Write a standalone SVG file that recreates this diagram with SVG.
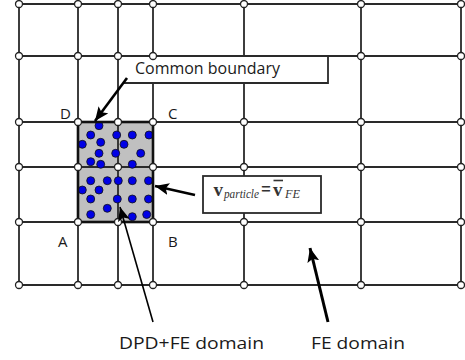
<svg xmlns="http://www.w3.org/2000/svg" width="465" height="360" viewBox="0 0 465 360">
<style>
.g{stroke:#2a2a2a;stroke-width:1.8;fill:none}
.n{fill:#fff;stroke:#222;stroke-width:1.3}
.p{fill:#0000e6;stroke:#111;stroke-width:0.8}
.lbl{font-family:"Open Sans","Liberation Sans",Arial,sans-serif;fill:#1a1a1a}
.tm{font-family:"Liberation Serif","Times New Roman",serif;fill:#333}
.box{fill:#fff;stroke:#2a2a2a;stroke-width:1.8}
.ar{stroke:#000;fill:none}
</style>
<defs>
<marker id="ah" markerUnits="userSpaceOnUse" markerWidth="16" markerHeight="14" refX="14" refY="6" orient="auto">
<path d="M0,0 L14,6 L0,12 L3,6 Z" fill="#000"/>
</marker>
</defs>
<g id="grid">
<path class="g" d="M19,4H461M19,56H461M19,122H461M19,167H461M19,222H461M19,285H461M19,4V285M78,4V285M118,4V285M153,4V285M244,4V285M361,4V285M461,4V285"/>
</g>
<g id="dpd-region">
<rect x="78" y="122" width="75" height="100" fill="#c0c0c0" stroke="none"/>
<path class="g" d="M118,122V222M78,167H153" stroke-width="1.2"/>
<g>
<circle class="p" cx="99" cy="125.7" r="4"/>
<circle class="p" cx="90.7" cy="135" r="4"/>
<circle class="p" cx="116.7" cy="135" r="4"/>
<circle class="p" cx="132.3" cy="135" r="4"/>
<circle class="p" cx="149" cy="135" r="4"/>
<circle class="p" cx="82.3" cy="144.3" r="4"/>
<circle class="p" cx="100.7" cy="142.3" r="4"/>
<circle class="p" cx="124" cy="144.3" r="4"/>
<circle class="p" cx="99" cy="153.3" r="4"/>
<circle class="p" cx="115.7" cy="153.3" r="4"/>
<circle class="p" cx="140.7" cy="153.3" r="4"/>
<circle class="p" cx="90.7" cy="161.7" r="4"/>
<circle class="p" cx="100.7" cy="164.3" r="4"/>
<circle class="p" cx="132.3" cy="164.3" r="4"/>
<circle class="p" cx="90.7" cy="180.7" r="4"/>
<circle class="p" cx="107.3" cy="180.7" r="4"/>
<circle class="p" cx="118.3" cy="180.7" r="4"/>
<circle class="p" cx="132.3" cy="180.7" r="4"/>
<circle class="p" cx="148.5" cy="180.7" r="4"/>
<circle class="p" cx="82.3" cy="190" r="4"/>
<circle class="p" cx="99" cy="190" r="4"/>
<circle class="p" cx="90.7" cy="199" r="4"/>
<circle class="p" cx="117.3" cy="199" r="4"/>
<circle class="p" cx="132.3" cy="199" r="4"/>
<circle class="p" cx="148.5" cy="199" r="4"/>
<circle class="p" cx="107.3" cy="208.3" r="4"/>
<circle class="p" cx="90.7" cy="214.5" r="4"/>
<circle class="p" cx="132.3" cy="216.7" r="4"/>
<circle class="p" cx="146.7" cy="214.5" r="4"/>
</g>
<rect x="78" y="122" width="75" height="100" fill="none" stroke="#111" stroke-width="2.6"/>
</g>
<g id="common-boundary-box">
<rect x="124" y="56" width="204" height="27" fill="#fff" stroke="none"/>
<path class="g" d="M124,56H328V83H124"/>
<text class="lbl" x="135" y="74" font-size="15.5" textLength="145" lengthAdjust="spacingAndGlyphs">Common boundary</text>
</g>
<g id="velocity-box">
<rect class="box" x="203" y="176" width="118" height="37"/>
<text class="tm" x="213.5" y="196" font-size="19" font-weight="bold">v</text>
<text class="tm" x="224" y="198" font-size="11.5" font-style="italic" textLength="35" lengthAdjust="spacingAndGlyphs">particle</text>
<text class="tm" x="261" y="196" font-size="20" font-weight="bold" textLength="10" lengthAdjust="spacingAndGlyphs">=</text>
<text class="tm" x="273" y="196" font-size="19" font-weight="bold">v</text>
<line x1="273.5" y1="180.5" x2="283" y2="180.5" stroke="#333" stroke-width="1.6"/>
<text class="tm" x="285" y="198" font-size="12" font-style="italic" textLength="15" lengthAdjust="spacingAndGlyphs">FE</text>
</g>
<g id="nodes">
<circle class="n" cx="19" cy="4" r="3.5"/><circle class="n" cx="78" cy="4" r="3.5"/><circle class="n" cx="118" cy="4" r="3.5"/><circle class="n" cx="153" cy="4" r="3.5"/><circle class="n" cx="244" cy="4" r="3.5"/><circle class="n" cx="361" cy="4" r="3.5"/><circle class="n" cx="461" cy="4" r="3.5"/>
<circle class="n" cx="19" cy="56" r="3.5"/><circle class="n" cx="78" cy="56" r="3.5"/><circle class="n" cx="118" cy="56" r="3.5"/><circle class="n" cx="153" cy="56" r="3.5"/><circle class="n" cx="361" cy="56" r="3.5"/><circle class="n" cx="461" cy="56" r="3.5"/>
<circle class="n" cx="19" cy="122" r="3.5"/><circle class="n" cx="78" cy="122" r="3.5"/><circle class="n" cx="118" cy="122" r="3.5"/><circle class="n" cx="153" cy="122" r="3.5"/><circle class="n" cx="244" cy="122" r="3.5"/><circle class="n" cx="361" cy="122" r="3.5"/><circle class="n" cx="461" cy="122" r="3.5"/>
<circle class="n" cx="19" cy="167" r="3.5"/><circle class="n" cx="78" cy="167" r="3.5"/><circle class="n" cx="118" cy="167" r="3.5"/><circle class="n" cx="153" cy="167" r="3.5"/><circle class="n" cx="244" cy="167" r="3.5"/><circle class="n" cx="361" cy="167" r="3.5"/><circle class="n" cx="461" cy="167" r="3.5"/>
<circle class="n" cx="19" cy="222" r="3.5"/><circle class="n" cx="78" cy="222" r="3.5"/><circle class="n" cx="118" cy="222" r="3.5"/><circle class="n" cx="153" cy="222" r="3.5"/><circle class="n" cx="244" cy="222" r="3.5"/><circle class="n" cx="361" cy="222" r="3.5"/><circle class="n" cx="461" cy="222" r="3.5"/>
<circle class="n" cx="19" cy="285" r="3.5"/><circle class="n" cx="78" cy="285" r="3.5"/><circle class="n" cx="118" cy="285" r="3.5"/><circle class="n" cx="153" cy="285" r="3.5"/><circle class="n" cx="244" cy="285" r="3.5"/><circle class="n" cx="361" cy="285" r="3.5"/><circle class="n" cx="461" cy="285" r="3.5"/>
</g>
<g id="corner-labels" class="lbl" font-size="15">
<text x="60" y="119">D</text>
<text x="168" y="119">C</text>
<text x="58" y="247">A</text>
<text x="168" y="247">B</text>
</g>
<g id="connectors">
<line class="ar" x1="127" y1="78" x2="95" y2="121" stroke-width="2.6" marker-end="url(#ah)"/>
<line class="ar" x1="195" y1="195" x2="155" y2="186" stroke-width="2.6" marker-end="url(#ah)"/>
<line class="ar" x1="153" y1="322" x2="120" y2="207" stroke-width="1.6" marker-end="url(#ah)"/>
<line class="ar" x1="328" y1="322" x2="310" y2="248" stroke-width="3" marker-end="url(#ah)"/>
</g>
<g id="domain-labels" class="lbl" font-size="16.5">
<text x="119" y="349" textLength="145" lengthAdjust="spacingAndGlyphs">DPD+FE domain</text>
<text x="311" y="349" textLength="94" lengthAdjust="spacingAndGlyphs">FE domain</text>
</g>
</svg>
